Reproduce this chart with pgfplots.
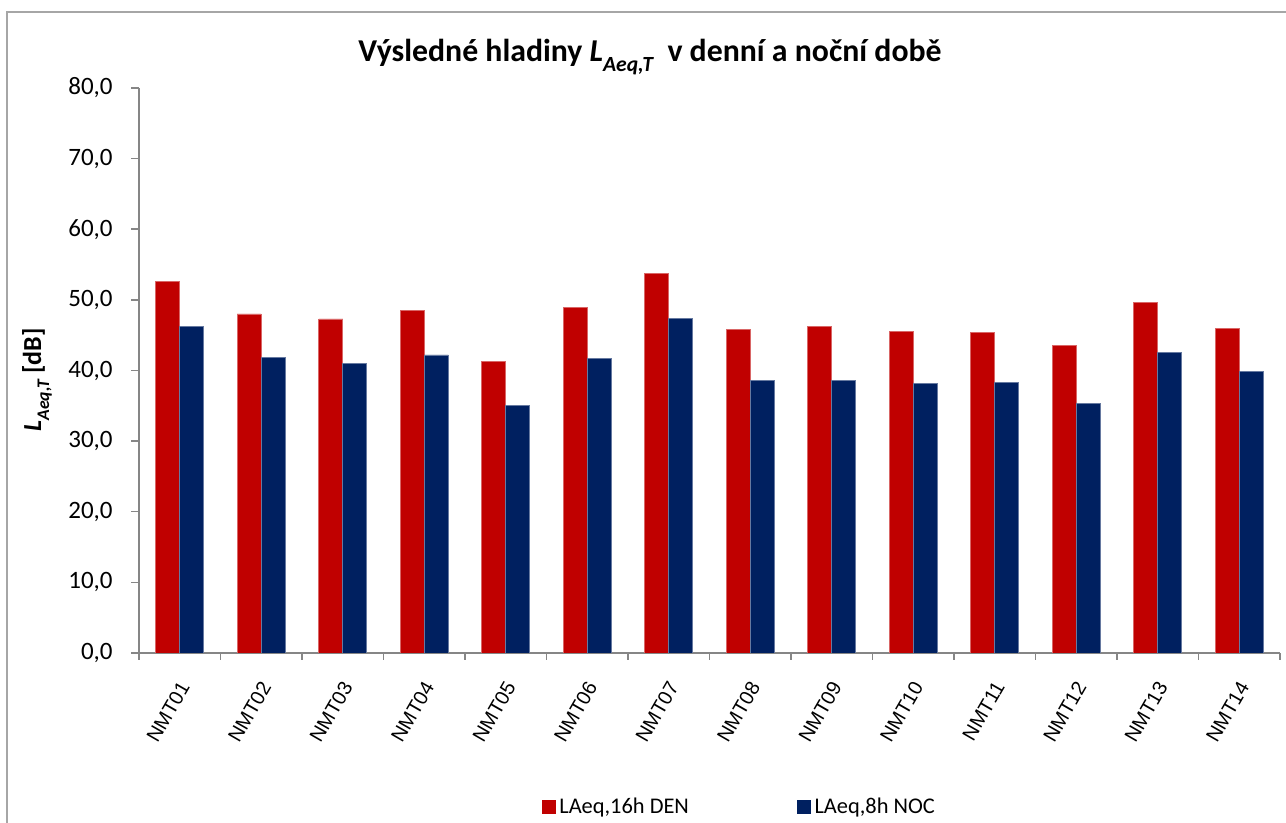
\documentclass[border=0pt]{standalone}
\usepackage{fontspec}
\setmainfont{Carlito}
\newfontfamily\arialf{Liberation Sans}
\usepackage{pgfplots}
\pgfplotsset{compat=1.18}
\usepackage{pgfplotstable}
\definecolor{denred}{HTML}{C00000}
\definecolor{nocblue}{HTML}{002060}
\definecolor{axgray}{HTML}{868686}
\definecolor{framegray}{HTML}{A6A6A6}

\pgfplotstableread{
x den noc
0.5 52.6 46.3
1.5 48.0 41.8
2.5 47.3 41.0
3.5 48.5 42.2
4.5 41.3 35.1
5.5 48.9 41.7
6.5 53.8 47.4
7.5 45.8 38.6
8.5 46.2 38.6
9.5 45.5 38.2
10.5 45.4 38.3
11.5 43.5 35.3
12.5 49.6 42.6
13.5 46.0 39.9
}\datatable

\newcommand\lsub[1]{\raisebox{-0.3em}{\fontsize{0.68\dimexpr\fontdimen6\font\relax}{0}\selectfont\itshape #1}}

\begin{document}
\begin{tikzpicture}
\useasboundingbox (0,0) rectangle (643pt,411.5pt);
\draw[framegray, line width=0.75pt] (3.5pt,0) -- (3.5pt,405.5pt) -- (643pt,405.5pt);
\node[font=\bfseries\fontsize{15.9}{18}\selectfont] at (325pt,383pt)
  {Výsledné hladiny \textit{L}\lsub{Aeq,T}\ \ v denní a noční době};
\node[rotate=90, font=\bfseries\fontsize{13}{15}\selectfont] at (18.5pt,221.5pt)
  {\textit{L}\lsub{Aeq,T} [dB]};
\begin{axis}[
  at={(69.5pt,85pt)}, anchor=south west,
  scale only axis, width=570.5pt, height=282.5pt,
  xmin=0, xmax=14, ymin=0, ymax=80,
  axis x line*=bottom, axis y line*=left,
  axis line style={axgray, line width=0.75pt, -},
  ybar=0pt, bar width=12pt,
  xtick=data,
  xticklabels={NMT01,NMT02,NMT03,NMT04,NMT05,NMT06,NMT07,NMT08,NMT09,NMT10,NMT11,NMT12,NMT13,NMT14},
  major x tick style={draw=none},
  minor xtick={0,1,...,14},
  minor tick length=3.5pt,
  ytick={0,10,...,80},
  major tick length=4pt,
  tick align=outside,
  tick style={axgray, line width=0.75pt},
  xticklabel style={font=\arialf\fontsize{10}{12}\selectfont, inner sep=0pt, xshift=2.5pt, yshift=-11pt, rotate=60, anchor=east},
  yticklabel style={/pgf/number format/fixed, /pgf/number format/fixed zerofill,
    /pgf/number format/precision=1, /pgf/number format/use comma,
    /pgf/number format/assume math mode=true,
    font=\fontsize{12.5}{15}\selectfont, anchor=east, inner sep=0pt, xshift=-9pt},
  legend style={at={(0.527,-0.2726)}, anchor=center, draw=none, fill=none,
    legend columns=2, font=\fontsize{11.2}{13}\selectfont,
    /tikz/every even column/.append style={column sep=52pt}},
]
\addplot[fill=denred, draw=denred!60!white, line width=0.3pt, legend image code/.code={\fill[denred] (0pt,-3.25pt) rectangle (6.5pt,3.25pt);}] table[x=x, y=den] {\datatable};
\addlegendentry{LAeq,16h DEN}
\addplot[fill=nocblue, draw=nocblue!60!white, line width=0.3pt, legend image code/.code={\fill[nocblue] (0pt,-3.25pt) rectangle (6.5pt,3.25pt);}] table[x=x, y=noc] {\datatable};
\addlegendentry{LAeq,8h NOC}
\end{axis}
\end{tikzpicture}
\end{document}
